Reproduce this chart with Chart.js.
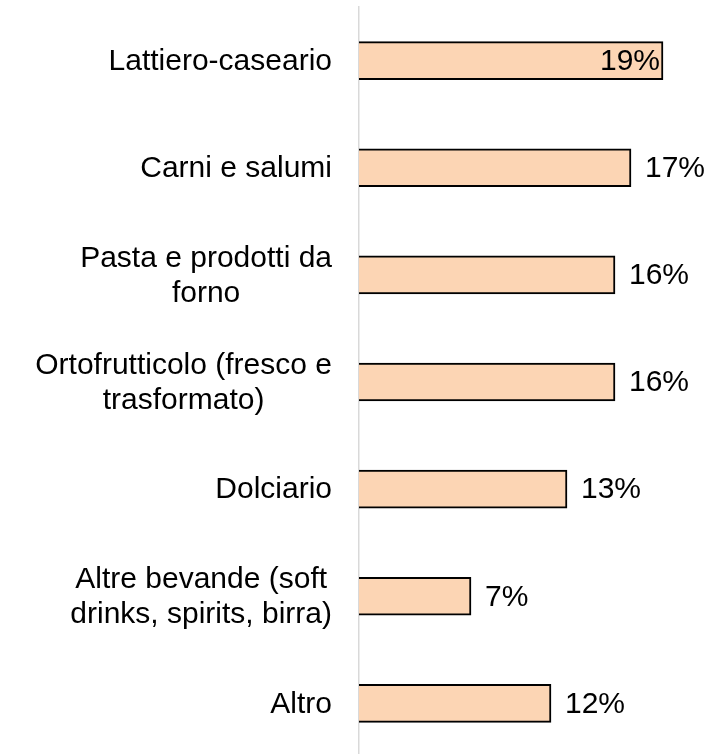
<!DOCTYPE html>
<html>
<head>
<meta charset="utf-8">
<script src="https://cdn.jsdelivr.net/npm/chart.js@4"></script>
<style>
  html, body { margin: 0; padding: 0; background: #fff; overflow: hidden; }
  #wrap { width: 707px; height: 757px; }
</style>
</head>
<body>
<div id="wrap"><canvas id="chart"></canvas></div>
<script>
var categories = [
  ['Lattiero-caseario'],
  ['Carni e salumi'],
  ['Pasta e prodotti da', 'forno'],
  ['Ortofrutticolo (fresco e', 'trasformato)'],
  ['Dolciario'],
  ['Altre bevande (soft', 'drinks, spirits, birra)'],
  ['Altro']
];
var shares = [19, 17, 16, 16, 13, 7, 12];

var FONT = '30px "Liberation Sans", Arial, sans-serif';

// category labels: right-aligned block, lines centred inside the block
var categoryLabels = {
  id: 'categoryLabels',
  afterDraw: function(chart) {
    var ctx = chart.ctx;
    var y = chart.scales.y;
    var right = chart.chartArea.left - 27;
    var lh = 35;
    ctx.save();
    ctx.font = FONT;
    ctx.fillStyle = '#000';
    ctx.textBaseline = 'middle';
    ctx.textAlign = 'center';
    categories.forEach(function(lines, i) {
      var cy = y.getPixelForValue(i) + 1;
      var wmax = 0;
      lines.forEach(function(l) { wmax = Math.max(wmax, ctx.measureText(l).width); });
      var cx = right - wmax / 2;
      var top = cy - (lines.length - 1) * lh / 2;
      lines.forEach(function(l, k) {
        ctx.fillText(l, cx, top + k * lh);
      });
    });
    ctx.restore();
  }
};

// value labels after the bar, inside when there is no room
var valueLabels = {
  id: 'valueLabels',
  afterDatasetsDraw: function(chart) {
    var ctx = chart.ctx;
    var meta = chart.getDatasetMeta(0);
    ctx.save();
    ctx.font = FONT;
    ctx.fillStyle = '#000';
    ctx.textBaseline = 'middle';
    meta.data.forEach(function(bar, i) {
      var txt = shares[i] + '%';
      var w = ctx.measureText(txt).width;
      if (bar.x + 16 + w > chart.width + 10) {
        ctx.textAlign = 'right';
        ctx.fillText(txt, bar.x - 3, bar.y + 1);
      } else {
        ctx.textAlign = 'left';
        ctx.fillText(txt, bar.x + 14, bar.y + 1);
      }
    });
    ctx.restore();
  }
};

var ctx = document.getElementById('chart').getContext('2d');
var chart = new Chart(ctx, {
  type: 'bar',
  data: {
    labels: categories,
    datasets: [{
      data: shares,
      backgroundColor: '#FCD5B4',
      borderColor: '#000',
      borderWidth: 2,
      borderSkipped: 'left',
      barThickness: 38
    }]
  },
  options: {
    indexAxis: 'y',
    responsive: true,
    maintainAspectRatio: false,
    animation: false,
    layout: { padding: { left: 359, right: 28, top: 7, bottom: 0 } },
    plugins: {
      legend: { display: false },
      tooltip: { enabled: false }
    },
    scales: {
      x: {
        display: false,
        min: 0,
        max: 20
      },
      y: {
        ticks: { display: false },
        grid: { display: false, drawTicks: false },
        border: { display: true, color: '#d9d9d9', width: 1.5 }
      }
    }
  },
  plugins: [categoryLabels, valueLabels]
});
</script>
</body>
</html>
